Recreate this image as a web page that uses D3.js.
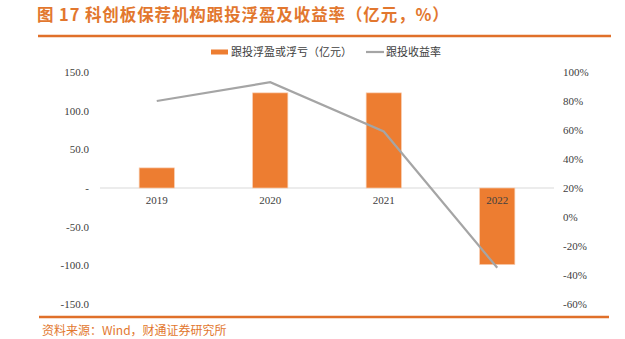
<!DOCTYPE html>
<html>
<head>
<meta charset="utf-8">
<script src="https://cdn.jsdelivr.net/npm/d3@7/dist/d3.min.js"></script>
<style>
  html, body { margin: 0; padding: 0; background: #fff; }
  svg { display: block; }
</style>
</head>
<body>
<svg id="chart" width="625" height="339"></svg>
<script>
// Chart data
const years = ["2019", "2020", "2021", "2022"];
const profit = [26, 123, 123, -99];          // 跟投浮盈或浮亏（亿元）
const returnRate = [80, 93, 59, -35];        // 跟投收益率（%）
const leftTicks = [-150, -100, -50, 0, 50, 100, 150];
const rightTicks = [-60, -40, -20, 0, 20, 40, 60, 80, 100];

const svg = d3.select("#chart");
const orange = "#E2772E";
const barColor = "#ED7D31";
const lineColor = "#A5A5A5";
const serif = "'Liberation Serif', 'DejaVu Serif', serif";
const cjk = "'Noto Sans CJK SC', sans-serif";
const hyphen = s => s.replace("\u2212", "-");

// Title and rules
svg.append("text")
  .attr("x", 37).attr("y", 21)
  .attr("font-family", cjk).attr("font-weight", "bold")
  .attr("font-size", 16.5).attr("letter-spacing", 0.9).attr("fill", orange)
  .text("图 17 科创板保荐机构跟投浮盈及收益率（亿元，%）");
svg.append("line").attr("x1", 38).attr("x2", 611).attr("y1", 36).attr("y2", 36)
  .attr("stroke", "#E0702A").attr("stroke-width", 2.5);
svg.append("line").attr("x1", 39).attr("x2", 609).attr("y1", 317).attr("y2", 317)
  .attr("stroke", "#E0702A").attr("stroke-width", 2.5);
svg.append("text")
  .attr("x", 42).attr("y", 335)
  .attr("font-family", cjk).attr("font-size", 12).attr("fill", orange)
  .text("资料来源：Wind，财通证券研究所");

// Scales
const x = d3.scaleBand().domain(years).range([100, 554]).paddingInner(0.69).paddingOuter(0.345);
const xc = d => x(d) + x.bandwidth() / 2;
const yL = d3.scaleLinear().domain([-150, 150]).range([304, 72]);
const yR = d3.scaleLinear().domain([-60, 100]).range([304, 72]);

// Left axis
const leftAxis = d3.axisLeft(yL).tickValues(leftTicks).tickSize(0)
  .tickFormat(d => d === 0 ? "-" : hyphen(d3.format(".1f")(d)));
const gL = svg.append("g").attr("transform", "translate(92,0)").call(leftAxis);
gL.select(".domain").remove();
gL.selectAll("text").attr("font-family", serif).attr("font-size", 11).attr("fill", "#404040");

// Right axis
const rightAxis = d3.axisRight(yR).tickValues(rightTicks).tickSize(0)
  .tickFormat(d => hyphen(String(d)) + "%");
const gR = svg.append("g").attr("transform", "translate(560,0)").call(rightAxis);
gR.select(".domain").remove();
gR.selectAll("text").attr("font-family", serif).attr("font-size", 11).attr("fill", "#404040");

// Zero baseline
svg.append("line").attr("x1", 100).attr("x2", 554)
  .attr("y1", yL(0)).attr("y2", yL(0))
  .attr("stroke", "#D9D9D9").attr("stroke-width", 1);

// Bars
svg.append("g").selectAll("rect").data(years).join("rect")
  .attr("x", d => x(d))
  .attr("width", x.bandwidth())
  .attr("y", (d, i) => yL(Math.max(0, profit[i])))
  .attr("height", (d, i) => Math.abs(yL(profit[i]) - yL(0)))
  .attr("fill", barColor)
  .attr("stroke", "#F8CBAD").attr("stroke-width", 0.7);

// Category labels
svg.append("g").selectAll("text").data(years).join("text")
  .attr("x", d => xc(d)).attr("y", yL(0) + 16)
  .attr("text-anchor", "middle")
  .attr("font-family", serif).attr("font-size", 11).attr("fill", "#404040")
  .text(d => d);

// Return-rate line
const line = d3.line().x((d, i) => xc(years[i])).y(d => yR(d));
svg.append("path").datum(returnRate)
  .attr("d", line).attr("fill", "none")
  .attr("stroke", lineColor).attr("stroke-width", 2.2);

// Legend
const lg = svg.append("g").attr("font-family", cjk).attr("font-size", 11).attr("fill", "#404040");
lg.append("rect").attr("x", 211).attr("y", 49.5).attr("width", 17).attr("height", 5).attr("fill", barColor);
lg.append("text").attr("x", 231).attr("y", 56).text("跟投浮盈或浮亏（亿元）");
lg.append("line").attr("x1", 366).attr("x2", 384).attr("y1", 52).attr("y2", 52)
  .attr("stroke", lineColor).attr("stroke-width", 2.2);
lg.append("text").attr("x", 386).attr("y", 56).text("跟投收益率");
</script>
</body>
</html>
